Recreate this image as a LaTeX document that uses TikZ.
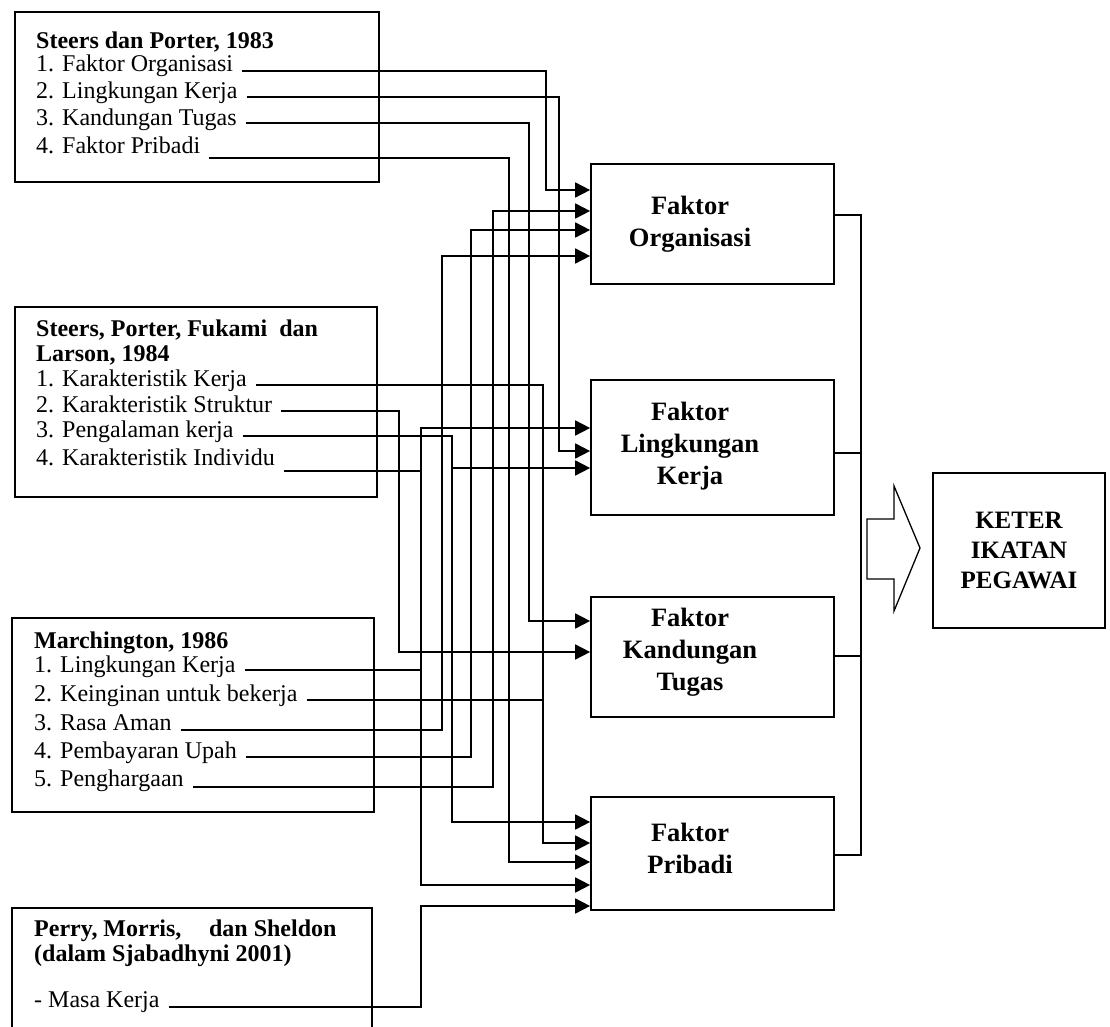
\documentclass[tikz,border=0pt]{standalone}
\usepackage{fontspec}
\setmainfont{Liberation Serif}
\usetikzlibrary{arrows.meta}
\begin{document}
\begin{tikzpicture}[x=1pt,y=-1pt,
  box/.style={draw, line width=1.7pt, inner sep=0pt},
  item/.style={anchor=west, inner xsep=9pt, inner ysep=0pt, font=\fontsize{24}{26}\selectfont, text height=0.62em, text depth=0.3em},
  ttl/.style={anchor=base west, inner sep=0pt, font=\fontsize{24}{26}\selectfont\bfseries},
  ftxt/.style={align=center, inner sep=0pt, font=\fontsize{26.5}{32}\selectfont\bfseries},
  conn/.style={line width=1.7pt, -{Triangle[length=15pt,width=15pt]}},
  wire/.style={line width=1.7pt}
]
\useasboundingbox (0,0) rectangle (1110,1027);

% ---------- left boxes ----------
\node[box, minimum width=364pt, minimum height=170pt] (spbox) at (197,97) {};
\node[box, minimum width=362pt, minimum height=190pt] (spflbox) at (196,402) {};
\node[box, minimum width=362pt, minimum height=194pt] (mbox) at (193,715) {};
\node[box, minimum width=360pt, minimum height=170pt] (pbox) at (192,993) {};

% Steers dan Porter
\node[ttl] (spt) at (36,49) {Steers dan Porter, 1983};
\node[item] (sp1) at (27,70) {1. Faktor Organisasi};
\node[item] (sp2) at (27,97) {2. Lingkungan Kerja};
\node[item] (sp3) at (27,124) {3. Kandungan Tugas};
\node[item] (sp4) at (27,152) {4. Faktor Pribadi};

% Steers, Porter, Fukami dan Larson
\node[ttl] (kt1) at (36,336) {Steers, Porter, Fukami\ \ dan};
\node[ttl] (kt2) at (36,361) {Larson, 1984};
\node[item] (k1) at (27,385) {1. Karakteristik Kerja};
\node[item] (k2) at (27,411) {2. Karakteristik Struktur};
\node[item] (k3) at (27,436) {3. Pengalaman kerja};
\node[item] (k4) at (27,464) {4. Karakteristik Individu};

% Marchington
\node[ttl] (mt) at (34,648) {Marchington, 1986};
\node[item] (m1) at (25,671) {1. Lingkungan Kerja};
\node[item] (m2) at (25,700) {2. Keinginan untuk bekerja};
\node[item] (m3) at (25,729) {3. Rasa Aman};
\node[item] (m4) at (25,757) {4. Pembayaran Upah};
\node[item] (m5) at (25,785) {5. Penghargaan};

% Perry
\node[ttl] (pt1) at (34,936) {Perry, Morris,\hspace{0.9em} dan Sheldon};
\node[ttl] (pt2) at (34,961) {(dalam Sjabadhyni 2001)};
\node[item] (pm) at (25,1006) {- Masa Kerja};

% ---------- factor boxes ----------
\node[box, minimum width=243pt, minimum height=120pt] (fo)  at (712.5,224) {};
\node[box, minimum width=243pt, minimum height=135pt] (flk) at (712.5,447.5) {};
\node[box, minimum width=243pt, minimum height=120pt] (fkt) at (712.5,657) {};
\node[box, minimum width=243pt, minimum height=113pt] (fp)  at (712.5,853.5) {};
\node[ftxt] (fot)  at (690,224) {Faktor\\Organisasi};
\node[ftxt] (flkt) at (690,446) {Faktor\\Lingkungan\\Kerja};
\node[ftxt] (fktt) at (690,652) {Faktor\\Kandungan\\Tugas};
\node[ftxt] (fpt)  at (690,848) {Faktor\\Pribadi};

% result box
\node[box, minimum width=172pt, minimum height=155pt, align=center,
      font=\fontsize{25}{30}\selectfont\bfseries] (ket) at (1019,550.5) {KETER\\IKATAN\\PEGAWAI};

% big hollow arrow
\draw[line width=1.3pt, line join=miter] (867,519) -- (894,519) -- (894,486) -- (920,548)
  -- (894,611) -- (894,579) -- (867,579) -- cycle;

% ---------- connectors ----------
% Steers dan Porter
\draw[conn] (sp1.east |- 0,71)  -| (546,190) -- (fo.west |- 0,190);
\draw[conn] (sp2.east |- 0,97)  -| (559,451) -- (flk.west |- 0,451);
\draw[conn] (sp3.east |- 0,123) -| (529,621) -- (fkt.west |- 0,621);
\draw[conn] (sp4.east |- 0,158) -| (509,862) -- (fp.west |- 0,862);

% Steers, Porter, Fukami dan Larson
\draw[conn] (k1.east |- 0,385) -| (543,843) -- (fp.west |- 0,843);
\draw[conn] (k2.east |- 0,411) -| (399,652) -- (fkt.west |- 0,652);
\coordinate (j3) at (452,468);
\draw[wire] (k3.east |- 0,436) -| (j3);
\draw[conn] (j3) -- (flk.west |- j3);
\draw[conn] (j3) |- (fp.west |- 0,822);
\draw[conn] (k4.east |- 0,471) -| (421,885) -- (fp.west |- 0,885);

% Marchington
\draw[conn] (m1.east |- 0,670) -| (421,428) -- (flk.west |- 0,428);
\coordinate (j1) at (543,700);
\draw[wire] (m2.east |- 0,700) -- (j1);
\draw[conn] (m3.east |- 0,730) -| (442,256) -- (fo.west |- 0,256);
\draw[conn] (m4.east |- 0,757) -| (471,230) -- (fo.west |- 0,230);
\draw[conn] (m5.east |- 0,787) -| (493,211) -- (fo.west |- 0,211);

% Perry
\draw[conn] (pm.east |- 0,1007) -| (421,906) -- (fp.west |- 0,906);

% outputs
\draw[wire] (fo.east |- 0,215) -- (861,215) -- (861,855) -- (fp.east |- 0,855);
\draw[wire] (flk.east |- 0,453) -- (861,453);
\draw[wire] (fkt.east |- 0,656) -- (861,656);
\end{tikzpicture}
\end{document}
